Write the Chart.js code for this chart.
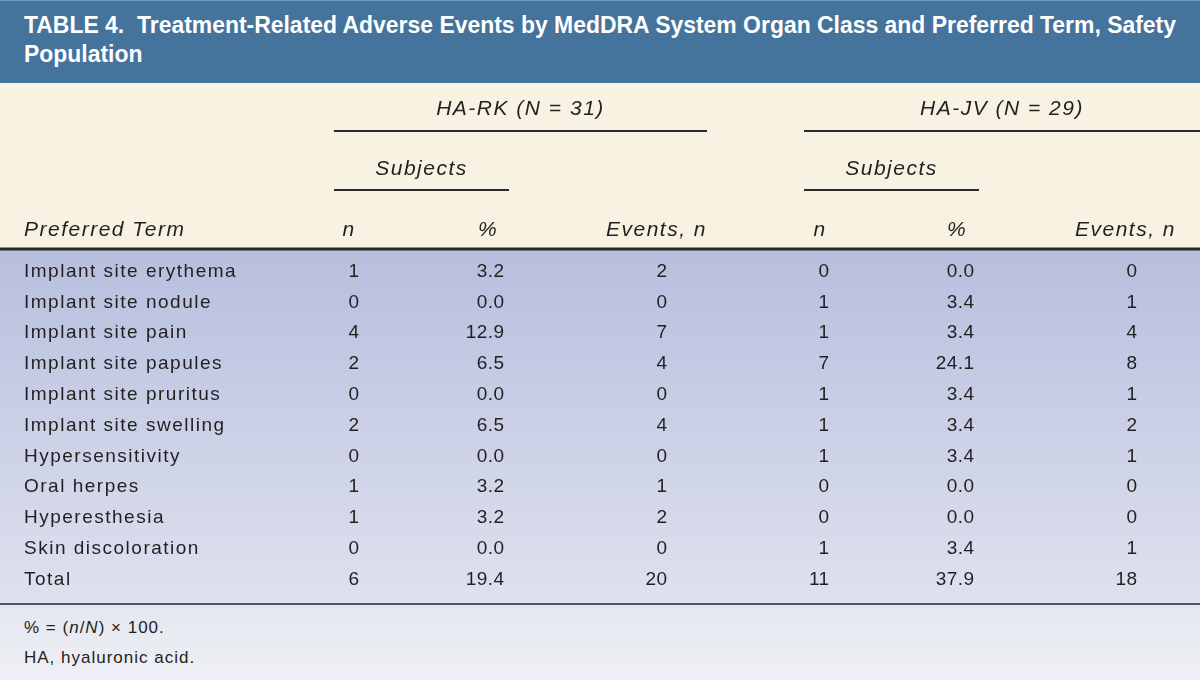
<!DOCTYPE html>
<html>
<head>
<meta charset="utf-8">
<script src="https://cdn.jsdelivr.net/npm/chart.js@4.4.0/dist/chart.umd.min.js"></script>
<style>
  body { margin: 0; width: 1200px; height: 680px; position: relative; overflow: hidden;
         font-family: 'Liberation Sans', Arial, sans-serif; color: #231f20; }
  .band { position: absolute; left: 0; width: 1200px; }
  #titlebar { top: 0; height: 83px; background: #44739c; border-top: 1px solid #7096bb; box-sizing: border-box; }
  #head { top: 83px; height: 167px; background: #f7f2e2; }
  #bodybg { top: 250px; height: 354px; background: linear-gradient(#b7bfde, #dee1ee); }
  #foot { top: 604px; height: 76px; background: linear-gradient(#e4e7f0, #eff0f5); }
  .tl { position: absolute; left: 24px; font-weight: bold; font-size: 23px; line-height: 23px;
        color: #fff; white-space: nowrap; transform-origin: 0 0; }
  .note { position: absolute; left: 24px; font-size: 17px; line-height: 17px; letter-spacing: 1px; white-space: nowrap; }
  canvas { position: absolute; left: 0; top: 0; }
</style>
</head>
<body>
<div class="band" id="titlebar"></div>
<div class="band" id="head"></div>
<div class="band" id="bodybg"></div>
<div class="band" id="foot"></div>
<div class="tl" id="t1" style="top:14px">TABLE 4.&nbsp; Treatment-Related Adverse Events by MedDRA System Organ Class and Preferred Term, Safety</div>
<div class="tl" id="t2" style="top:43px">Population</div>
<div class="note" style="top:619px">% = (<i>n</i>/<i>N</i>) × 100.</div>
<div class="note" style="top:649px">HA, hyaluronic acid.</div>
<canvas id="table" width="1200" height="680"></canvas>
<script>
// table data
const terms = ['Implant site erythema', 'Implant site nodule', 'Implant site pain', 'Implant site papules',
  'Implant site pruritus', 'Implant site swelling', 'Hypersensitivity', 'Oral herpes',
  'Hyperesthesia', 'Skin discoloration', 'Total'];
const harkN = [1, 0, 4, 2, 0, 2, 0, 1, 1, 0, 6];
const harkPct = [3.2, 0.0, 12.9, 6.5, 0.0, 6.5, 0.0, 3.2, 3.2, 0.0, 19.4];
const harkEvents = [2, 0, 7, 4, 0, 4, 0, 1, 2, 0, 20];
const hajvN = [0, 1, 1, 7, 1, 1, 1, 0, 0, 1, 11];
const hajvPct = [0.0, 3.4, 3.4, 24.1, 3.4, 3.4, 3.4, 0.0, 0.0, 3.4, 37.9];
const hajvEvents = [0, 1, 4, 8, 1, 2, 1, 0, 0, 1, 18];

const groupLabels = ['HA-RK (N = 31)', 'HA-JV (N = 29)'];
const subLabel = 'Subjects';
const colHeaders = ['Preferred Term', 'n', '%', 'Events, n', 'n', '%', 'Events, n'];

// layout (x scale runs 0..1200)
const COL_X = [24, 359, 504, 667, 829, 974, 1137];
const HEAD_X = [24, 349, 488, 707, 820, 957, 1176];
const HEAD_ALIGN = ['left', 'center', 'center', 'right', 'center', 'center', 'right'];
const GROUP_SPAN = [[334, 707], [804, 1200]];
const SUB_SPAN = [[334, 509], [804, 979]];
const INK = '#231f20';

// squeeze title to the width of the bar
const t1 = document.getElementById('t1');
const k = 1152 / t1.getBoundingClientRect().width;
t1.style.transform = 'scaleX(' + k + ')';
document.getElementById('t2').style.transform = 'scaleX(' + k + ')';

const columns = [terms, harkN, harkPct.map(v => v.toFixed(1)), harkEvents,
  hajvN, hajvPct.map(v => v.toFixed(1)), hajvEvents];

const datasets = columns.map((vals, c) => ({
  label: colHeaders[c],
  data: terms.map(t => ({ x: COL_X[c], y: t })),
  texts: vals.map(String),
  align: c === 0 ? 'left' : 'right',
  pointRadius: 0,
  showLine: false
}));

const tablePlugin = {
  id: 'tablePlugin',
  afterDatasetsDraw(chart) {
    const ctx = chart.ctx;
    const x = chart.scales.x;
    const area = chart.chartArea;
    ctx.save();
    ctx.fillStyle = INK;
    ctx.textBaseline = 'middle';

    // cells
    chart.data.datasets.forEach((ds, i) => {
      const meta = chart.getDatasetMeta(i);
      ctx.font = '19px "Liberation Sans", Arial, sans-serif';
      ctx.letterSpacing = i === 0 ? '1.5px' : '0.4px';
      ctx.textAlign = ds.align;
      meta.data.forEach((pt, j) => {
        ctx.fillText(ds.texts[j], pt.x + (ds.align === 'right' ? 0.4 : 0), pt.y + 1.5);
      });
    });

    // header texts
    ctx.font = 'italic 21px "Liberation Sans", Arial, sans-serif';
    ctx.letterSpacing = '1.5px';
    const headY = area.top - 24.5;
    colHeaders.forEach((h, c) => {
      ctx.textAlign = HEAD_ALIGN[c];
      ctx.fillText(h, x.getPixelForValue(HEAD_X[c]), headY);
    });
    ctx.textAlign = 'center';
    GROUP_SPAN.forEach((s, g) => {
      ctx.fillText(groupLabels[g], x.getPixelForValue((s[0] + s[1]) / 2), area.top - 145.5);
    });
    SUB_SPAN.forEach(s => {
      ctx.fillText(subLabel, x.getPixelForValue((s[0] + s[1]) / 2), area.top - 85.5);
    });

    // rules
    ctx.strokeStyle = '#2b2b2b';
    ctx.lineWidth = 2;
    const hline = (a, b, y) => {
      ctx.beginPath();
      ctx.moveTo(x.getPixelForValue(a), y);
      ctx.lineTo(x.getPixelForValue(b), y);
      ctx.stroke();
    };
    GROUP_SPAN.forEach(s => hline(s[0], s[1], area.top - 123.6));
    SUB_SPAN.forEach(s => hline(s[0], s[1], area.top - 64.6));
    ctx.lineWidth = 3;
    hline(0, 1200, area.top - 5.6);
    ctx.strokeStyle = '#50555f';
    ctx.lineWidth = 2;
    hline(0, 1200, area.bottom + 10.6);
    ctx.restore();
  }
};

new Chart(document.getElementById('table'), {
  type: 'scatter',
  data: { datasets: datasets },
  options: {
    responsive: false,
    animation: false,
    events: [],
    layout: { padding: { top: 254.6, bottom: 86.6, left: 0, right: 0 } },
    plugins: { legend: { display: false }, tooltip: { enabled: false } },
    scales: {
      x: { type: 'linear', min: 0, max: 1200, display: false },
      y: { type: 'category', labels: terms, offset: true, display: false }
    }
  },
  plugins: [tablePlugin]
});
</script>
</body>
</html>
